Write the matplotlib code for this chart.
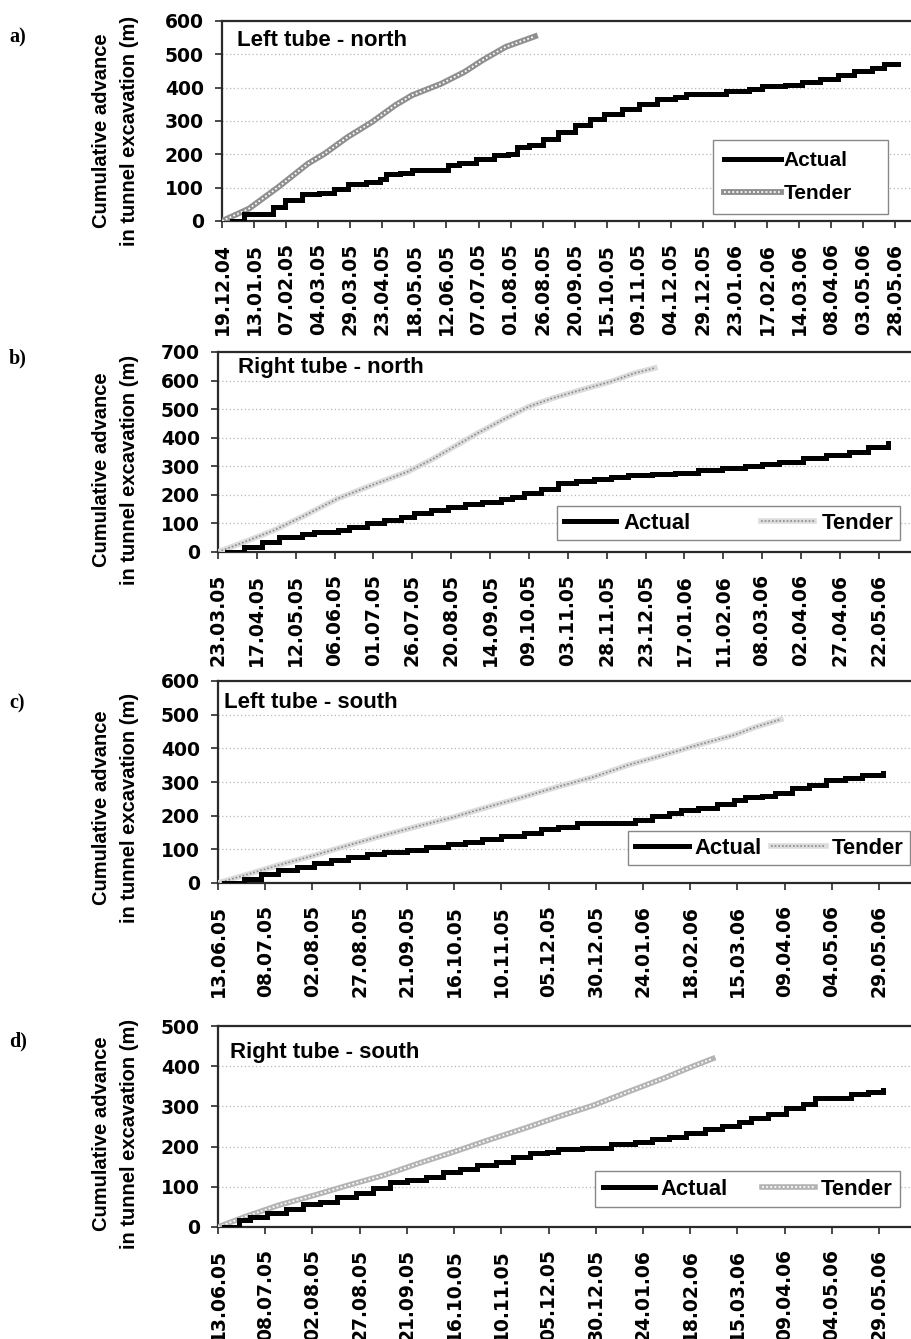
import matplotlib
matplotlib.use("Agg")
import matplotlib.pyplot as plt
import matplotlib.dates as mdates
from matplotlib.legend_handler import HandlerTuple
import numpy as np
import pandas as pd

plt.rcParams['font.family'] = ['Liberation Sans', 'DejaVu Sans']
plt.rcParams['font.weight'] = 'bold'

# ---------------- data (days since first tick date, metres) ----------------
# a) Left tube - north
a_ticks = ["19.12.04", "13.01.05", "07.02.05", "04.03.05", "29.03.05", "23.04.05",
           "18.05.05", "12.06.05", "07.07.05", "01.08.05", "26.08.05", "20.09.05",
           "15.10.05", "09.11.05", "04.12.05", "29.12.05", "23.01.06", "17.02.06",
           "14.03.06", "08.04.06", "03.05.06", "28.05.06"]
a_act_days = [8, 17, 26, 40, 49, 62, 76, 87, 98, 112, 123, 128, 139, 148, 162, 176, 185,
              198, 212, 223, 230, 239, 250, 262, 275, 287, 298, 312, 325, 339, 353, 362,
              377, 393, 411, 421, 439, 452, 466, 480, 493, 507, 516, 527]
a_act_m = [0, 20, 22, 42, 62, 82, 84, 97, 112, 117, 127, 142, 144, 152, 154, 167, 175,
           187, 197, 200, 222, 227, 247, 267, 287, 307, 320, 337, 350, 367, 372, 380,
           380, 390, 397, 404, 407, 417, 427, 437, 449, 459, 470, 470]
a_ten_days = [0, 21, 44, 67, 80, 98, 117, 135, 148, 171, 189, 203, 221, 244]
a_ten_m = [0, 37, 102, 172, 202, 252, 297, 347, 377, 412, 447, 482, 522, 554]

# b) Right tube - north
b_ticks = ["23.03.05", "17.04.05", "12.05.05", "06.06.05", "01.07.05", "26.07.05",
           "20.08.05", "14.09.05", "09.10.05", "03.11.05", "28.11.05", "23.12.05",
           "17.01.06", "11.02.06", "08.03.06", "02.04.06", "27.04.06", "22.05.06"]
b_act_days = [6, 17, 28, 39, 54, 62, 77, 84, 96, 107, 118, 126, 137, 148, 159, 170, 182,
              189, 197, 208, 219, 230, 242, 253, 264, 279, 294, 309, 324, 339, 350, 361,
              376, 391, 406, 418, 431]
b_act_m = [0, 18, 35, 53, 62, 70, 78, 88, 100, 111, 123, 137, 146, 158, 167, 176, 184,
           193, 205, 222, 240, 249, 257, 263, 269, 273, 277, 287, 293, 301, 308, 316,
           328, 339, 351, 366, 380]
b_ten_days = [0, 17, 36, 54, 77, 99, 122, 137, 152, 167, 185, 200, 215, 234, 253, 268, 281]
b_ten_m = [0, 35, 76, 123, 187, 234, 281, 322, 369, 416, 468, 509, 538, 568, 597, 626, 644]

# c) Left tube - south
c_ticks = ["13.06.05", "08.07.05", "02.08.05", "27.08.05", "21.09.05", "16.10.05",
           "10.11.05", "05.12.05", "30.12.05", "24.01.06", "18.02.06", "15.03.06",
           "09.04.06", "04.05.06", "29.05.06"]
c_act_days = [3, 14, 23, 32, 42, 51, 60, 69, 79, 88, 100, 110, 122, 131, 140, 150, 162,
              171, 180, 190, 202, 214, 221, 230, 239, 245, 254, 264, 273, 279, 288, 295,
              304, 313, 322, 332, 341, 352]
c_act_m = [0, 13, 28, 38, 48, 60, 69, 77, 85, 92, 99, 107, 117, 122, 132, 140, 149, 159,
           167, 177, 178, 178, 188, 198, 208, 218, 224, 236, 246, 254, 258, 268, 281,
           291, 305, 313, 320, 327]
c_ten_days = [0, 14, 32, 51, 69, 88, 106, 125, 143, 162, 180, 199, 217, 236, 254, 273, 285, 298]
c_ten_m = [0, 23, 53, 82, 112, 142, 169, 196, 226, 256, 286, 315, 350, 380, 410, 439, 464, 486]

# d) Right tube - south
d_ticks = c_ticks
d_act_days = [3, 11, 17, 26, 36, 45, 54, 63, 73, 82, 91, 100, 110, 119, 128, 137, 147,
              156, 165, 174, 180, 193, 205, 208, 221, 230, 239, 248, 258, 267, 276, 282,
              291, 301, 310, 316, 328, 335, 344, 352]
d_act_m = [0, 17, 25, 36, 46, 58, 62, 75, 85, 96, 112, 116, 125, 137, 145, 154, 162,
           174, 183, 187, 195, 197, 197, 206, 212, 218, 224, 234, 245, 251, 262, 270,
           282, 295, 307, 322, 322, 331, 336, 340]
d_ten_days = [0, 14, 32, 51, 69, 88, 106, 125, 143, 162, 180, 199, 217, 236, 251, 262]
d_ten_m = [0, 25, 54, 79, 104, 129, 158, 187, 216, 245, 274, 303, 336, 370, 399, 419]

panels = [
    dict(letter="a)", title="Left tube - north", ticks=a_ticks, ad=a_act_days, am=a_act_m,
         td=a_ten_days, tm=a_ten_m, ymax=600, span=552,
         box=(222, 21, 221), title_xy=(0.021, 0.905), ylab_y=131, letter_y=37,
         leg=dict(bbox=(713, 140, 888), ncol=1, fs=15, hl=2.7, htp=0.15, cs=1.0, ls=0.65,
                  bp=0.55),
         tstyle='hatch'),
    dict(letter="b)", title="Right tube - north", ticks=b_ticks, ad=b_act_days, am=b_act_m,
         td=b_ten_days, tm=b_ten_m, ymax=700, span=458,
         box=(218, 352, 552), title_xy=(0.028, 0.92), ylab_y=470, letter_y=358,
         leg=dict(bbox=(557, 506, 900), ncol=2, fs=15.8, hl=2.4, htp=0.35, cs=1.0, ls=0.5,
                  bp=0.3),
         tstyle='dots'),
    dict(letter="c)", title="Left tube - south", ticks=c_ticks, ad=c_act_days, am=c_act_m,
         td=c_ten_days, tm=c_ten_m, ymax=600, span=377,
         box=(218, 681, 883), title_xy=(0.009, 0.896), ylab_y=808, letter_y=703,
         leg=dict(bbox=(628, 831, 910), ncol=2, fs=15.8, hl=2.5, htp=0.25, cs=0.3, ls=0.5,
                  bp=0.3),
         tstyle='dots'),
    dict(letter="d)", title="Right tube - south", ticks=d_ticks, ad=d_act_days, am=d_act_m,
         td=d_ten_days, tm=d_ten_m, ymax=500, span=377,
         box=(218, 1026, 1227), title_xy=(0.017, 0.87), ylab_y=1134, letter_y=1041,
         leg=dict(bbox=(595, 1171, 900), ncol=2, fs=15.8, hl=2.4, htp=0.25, cs=0.6, ls=0.5,
                  bp=0.35),
         tstyle='hatch_light'),
]

W, H = 912, 1339
fig = plt.figure(figsize=(W / 100, H / 100), dpi=100)
fig.patch.set_facecolor('white')

RIGHT = 930
spine_c = '#2a2a2a'

for p in panels:
    left, top, bottom = p['box']
    ax_w, ax_h = RIGHT - left, bottom - top
    ax = fig.add_axes([left / W, 1 - bottom / H, ax_w / W, ax_h / H])
    tick_dates = pd.to_datetime(p['ticks'], format='%d.%m.%y')
    start = mdates.date2num(tick_dates[0].to_pydatetime())
    tick_pos = [mdates.date2num(t.to_pydatetime()) for t in tick_dates]

    ax_x = start + np.array(p['ad'], dtype=float)
    ten_x = start + np.array(p['td'], dtype=float)

    h_act, = ax.plot(ax_x, p['am'], color='black', lw=3.6, drawstyle='steps-post',
                     solid_joinstyle='miter', zorder=4)
    if p['tstyle'] == 'hatch':
        t1, = ax.plot(ten_x, p['tm'], color='#8f8f8f', lw=4.2, zorder=3)
        t2, = ax.plot(ten_x, p['tm'], color='white', lw=1.3, ls=(0, (1, 1.3)), zorder=3.5)
    elif p['tstyle'] == 'hatch_light':
        t1, = ax.plot(ten_x, p['tm'], color='#b4b4b4', lw=4.0, zorder=3)
        t2, = ax.plot(ten_x, p['tm'], color='white', lw=1.3, ls=(0, (1, 1.3)), zorder=3.5)
    else:
        t1, = ax.plot(ten_x, p['tm'], color='#dcdcdc', lw=4.0, zorder=3)
        t2, = ax.plot(ten_x, p['tm'], color='#8a8a8a', lw=1.2, ls=(0, (1, 1.2)), zorder=3.5)

    ax.set_xlim(start, start + p['span'])
    ax.set_ylim(0, p['ymax'])
    ax.set_xticks(tick_pos)
    ax.set_xticklabels(p['ticks'], rotation=90, family='DejaVu Sans',
                       fontweight='bold', fontsize=13.5, va='top')
    yt = np.arange(0, p['ymax'] + 1, 100)
    ax.set_yticks(yt)
    ax.set_yticklabels([str(v) for v in yt], family='DejaVu Sans', fontweight='bold',
                       fontsize=13.5)
    ax.tick_params(axis='both', direction='out', length=5, width=1.2, color=spine_c)
    ax.tick_params(axis='y', pad=8)
    ax.tick_params(axis='x', pad=11)
    ax.grid(axis='y', color='#b8b8b8', lw=0.9, ls=(0, (1, 2)))
    ax.set_axisbelow(True)
    for s in ax.spines.values():
        s.set_color(spine_c)
        s.set_linewidth(1.6)

    ax.text(p['title_xy'][0], p['title_xy'][1], p['title'], transform=ax.transAxes,
            fontsize=16, fontweight='bold', ha='left', va='center', zorder=5)

    lg = p['leg']
    bx0, by0, bx1 = lg['bbox']
    anchor = ((bx0 - left) / ax_w, (bottom - by0) / ax_h, (bx1 - bx0) / ax_w, 0)
    leg = ax.legend([h_act, (t1, t2)], ['Actual', 'Tender'],
                    handler_map={tuple: HandlerTuple(ndivide=1)},
                    loc='upper left', bbox_to_anchor=anchor, mode='expand', borderaxespad=0,
                    ncol=lg['ncol'], fontsize=lg['fs'], handlelength=lg['hl'],
                    handletextpad=lg['htp'], columnspacing=lg['cs'], labelspacing=lg['ls'],
                    fancybox=False, framealpha=1, edgecolor='#888888', borderpad=lg['bp'])
    leg.get_frame().set_linewidth(1.0)
    for t in leg.get_texts():
        t.set_fontweight('bold')

    fig.text(116 / W, 1 - p['ylab_y'] / H,
             "Cumulative advance\nin tunnel excavation (m)", rotation=90,
             ha='center', va='center', fontsize=14.5, fontweight='bold', linespacing=1.6)
    fig.text(9 / W, 1 - p['letter_y'] / H, p['letter'], ha='left', va='center',
             family='Liberation Serif', fontsize=14.5, fontweight='bold')

fig.savefig('out.png', dpi=100, facecolor='white')
